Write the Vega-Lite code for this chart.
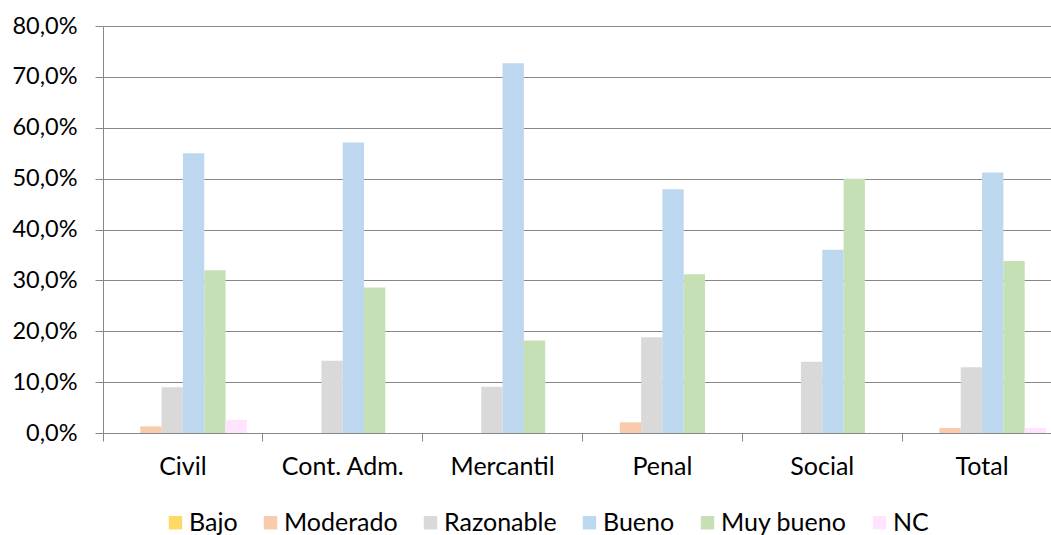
{
  "$schema": "https://vega.github.io/schema/vega-lite/v6.json",
  "width": 948,
  "height": 407,
  "autosize": {"type": "none"},
  "padding": {"left": 103, "top": 26, "right": 0, "bottom": 102},
  "background": "white",
  "config": {
    "view": {"stroke": null},
    "font": "Lato",
    "axis": {"labelFont": "Lato", "labelColor": "#000000", "labelFontSize": 23, "domainColor": "#888888", "tickColor": "#888888", "gridColor": "#888888", "tickSize": 8, "title": null},
    "legend": {"labelFont": "Lato"}
  },
  "data": {
    "values": [
      {"cat": "Civil", "level": "Bajo", "pct": 0},
      {"cat": "Civil", "level": "Moderado", "pct": 1.3},
      {"cat": "Civil", "level": "Razonable", "pct": 9.0},
      {"cat": "Civil", "level": "Bueno", "pct": 55.0},
      {"cat": "Civil", "level": "Muy bueno", "pct": 32.0},
      {"cat": "Civil", "level": "NC", "pct": 2.6},
      {"cat": "Cont. Adm.", "level": "Bajo", "pct": 0},
      {"cat": "Cont. Adm.", "level": "Moderado", "pct": 0},
      {"cat": "Cont. Adm.", "level": "Razonable", "pct": 14.2},
      {"cat": "Cont. Adm.", "level": "Bueno", "pct": 57.1},
      {"cat": "Cont. Adm.", "level": "Muy bueno", "pct": 28.6},
      {"cat": "Cont. Adm.", "level": "NC", "pct": 0},
      {"cat": "Mercantil", "level": "Bajo", "pct": 0},
      {"cat": "Mercantil", "level": "Moderado", "pct": 0},
      {"cat": "Mercantil", "level": "Razonable", "pct": 9.1},
      {"cat": "Mercantil", "level": "Bueno", "pct": 72.7},
      {"cat": "Mercantil", "level": "Muy bueno", "pct": 18.2},
      {"cat": "Mercantil", "level": "NC", "pct": 0},
      {"cat": "Penal", "level": "Bajo", "pct": 0},
      {"cat": "Penal", "level": "Moderado", "pct": 2.1},
      {"cat": "Penal", "level": "Razonable", "pct": 18.8},
      {"cat": "Penal", "level": "Bueno", "pct": 47.9},
      {"cat": "Penal", "level": "Muy bueno", "pct": 31.2},
      {"cat": "Penal", "level": "NC", "pct": 0},
      {"cat": "Social", "level": "Bajo", "pct": 0},
      {"cat": "Social", "level": "Moderado", "pct": 0},
      {"cat": "Social", "level": "Razonable", "pct": 14.0},
      {"cat": "Social", "level": "Bueno", "pct": 36.0},
      {"cat": "Social", "level": "Muy bueno", "pct": 50.0},
      {"cat": "Social", "level": "NC", "pct": 0},
      {"cat": "Total", "level": "Bajo", "pct": 0},
      {"cat": "Total", "level": "Moderado", "pct": 1.0},
      {"cat": "Total", "level": "Razonable", "pct": 12.9},
      {"cat": "Total", "level": "Bueno", "pct": 51.2},
      {"cat": "Total", "level": "Muy bueno", "pct": 33.8},
      {"cat": "Total", "level": "NC", "pct": 1.0}
    ]
  },
  "mark": {"type": "bar"},
  "encoding": {
    "x": {
      "field": "cat",
      "type": "nominal",
      "sort": ["Civil", "Cont. Adm.", "Mercantil", "Penal", "Social", "Total"],
      "scale": {"range": [0, 959], "paddingInner": 0, "paddingOuter": 0},
      "axis": {"bandPosition": 0, "labelAngle": 0, "labelPadding": 13, "grid": false, "labelBaseline": "top", "labelFontSize": 25}
    },
    "xOffset": {
      "field": "level",
      "type": "nominal",
      "sort": ["Bajo", "Moderado", "Razonable", "Bueno", "Muy bueno", "NC"],
      "scale": {"paddingInner": 0, "paddingOuter": 0.75}
    },
    "y": {
      "field": "pct",
      "type": "quantitative",
      "scale": {"domain": [0, 80], "nice": false},
      "axis": {
        "values": [0, 10, 20, 30, 40, 50, 60, 70, 80],
        "labelExpr": "replace(format(datum.value, '.1f'), '.', ',') + '%'",
        "grid": true,
        "labelPadding": 18,
        "labelFontSize": 23.5
      }
    },
    "color": {
      "field": "level",
      "type": "nominal",
      "sort": ["Bajo", "Moderado", "Razonable", "Bueno", "Muy bueno", "NC"],
      "scale": {
        "domain": ["Bajo", "Moderado", "Razonable", "Bueno", "Muy bueno", "NC"],
        "range": ["#FFD966", "#F8CBAD", "#D9D9D9", "#BDD7EE", "#C5E0B4", "#FFE4FF"]
      },
      "legend": {
        "orient": "none",
        "legendX": 60,
        "legendY": 484,
        "direction": "horizontal",
        "columns": 6,
        "title": null,
        "symbolType": "square",
        "symbolSize": 180,
        "symbolStrokeWidth": 0,
        "symbolOpacity": 1,
        "labelFontSize": 25,
        "labelColor": "#000000",
        "labelOffset": 1,
        "columnPadding": 20
      }
    }
  }
}
